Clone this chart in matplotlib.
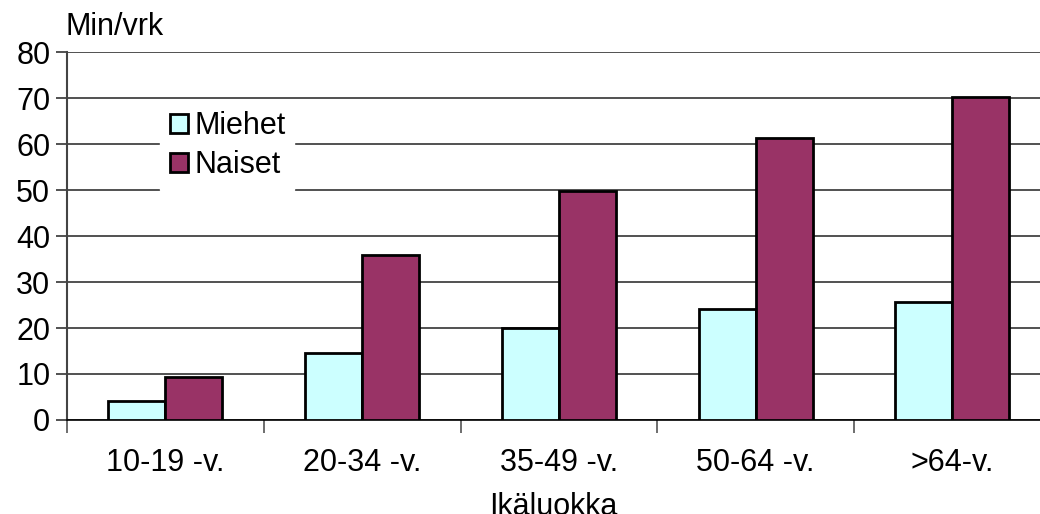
import numpy as np
import matplotlib.pyplot as plt
from matplotlib.ticker import FixedLocator

plt.rcParams['font.family'] = ['Liberation Sans', 'DejaVu Sans']

ryhmat = ['10-19 -v.', '20-34 -v.', '35-49 -v.', '50-64 -v.', '>64-v.']
miehet = [4.1, 14.5, 20.0, 24.2, 25.7]
naiset = [9.4, 35.9, 49.8, 61.3, 70.2]

fig = plt.figure(figsize=(10.4, 5.14), dpi=100)
# oikea reuna jää kuvan ulkopuolelle kuten alkuperäisessä
ax = fig.add_axes([0.0644, 0.183, 0.946, 0.715])

x = np.arange(len(ryhmat))
w = 0.29
ax.bar(x - w / 2, miehet, w, color='#CCFFFF', edgecolor='black', linewidth=2, label='Miehet', zorder=3)
ax.bar(x + w / 2, naiset, w, color='#993366', edgecolor='black', linewidth=2, label='Naiset', zorder=3)

ax.set_xlim(-0.5, len(ryhmat) - 0.5)
ax.set_ylim(0, 80)
ax.set_yticks(range(0, 81, 10))
ax.yaxis.grid(True, color='#333333', linewidth=1.2, zorder=0)
ax.set_axisbelow(True)

ax.set_xticks(x)
ax.set_xticklabels(ryhmat, fontsize=22)
ax.tick_params(axis='x', length=0, pad=20)
ax.xaxis.set_minor_locator(FixedLocator(np.arange(-0.5, len(ryhmat), 1.0)))
ax.tick_params(axis='x', which='minor', length=9, width=1.2, color='#555555', direction='out')
ax.tick_params(axis='y', labelsize=22, length=8, width=1.2, color='#333333', pad=4)

for s in ['top', 'right']:
    ax.spines[s].set_visible(False)
ax.spines['left'].set_color('#444444')
ax.spines['left'].set_linewidth(1.5)
ax.spines['bottom'].set_color('black')
ax.spines['bottom'].set_linewidth(1.2)

# akselin otsikot
fig.text(0.0644 + 0.946 * 0.5 - 0.005, -0.002, 'Ikäluokka', fontsize=22, ha='center', va='baseline')
fig.text(0.0625, 0.948, 'Min/vrk', fontsize=22, ha='left', va='center')

leg = ax.legend(loc='upper left', bbox_to_anchor=(0.095, 0.865), fontsize=22,
                frameon=True, fancybox=False, edgecolor='white', framealpha=1,
                handlelength=0.6, handleheight=0.6, handletextpad=0.2,
                borderpad=0.3, labelspacing=0.3, borderaxespad=0)
leg.set_zorder(5)

fig.savefig('out.png', dpi=100)
